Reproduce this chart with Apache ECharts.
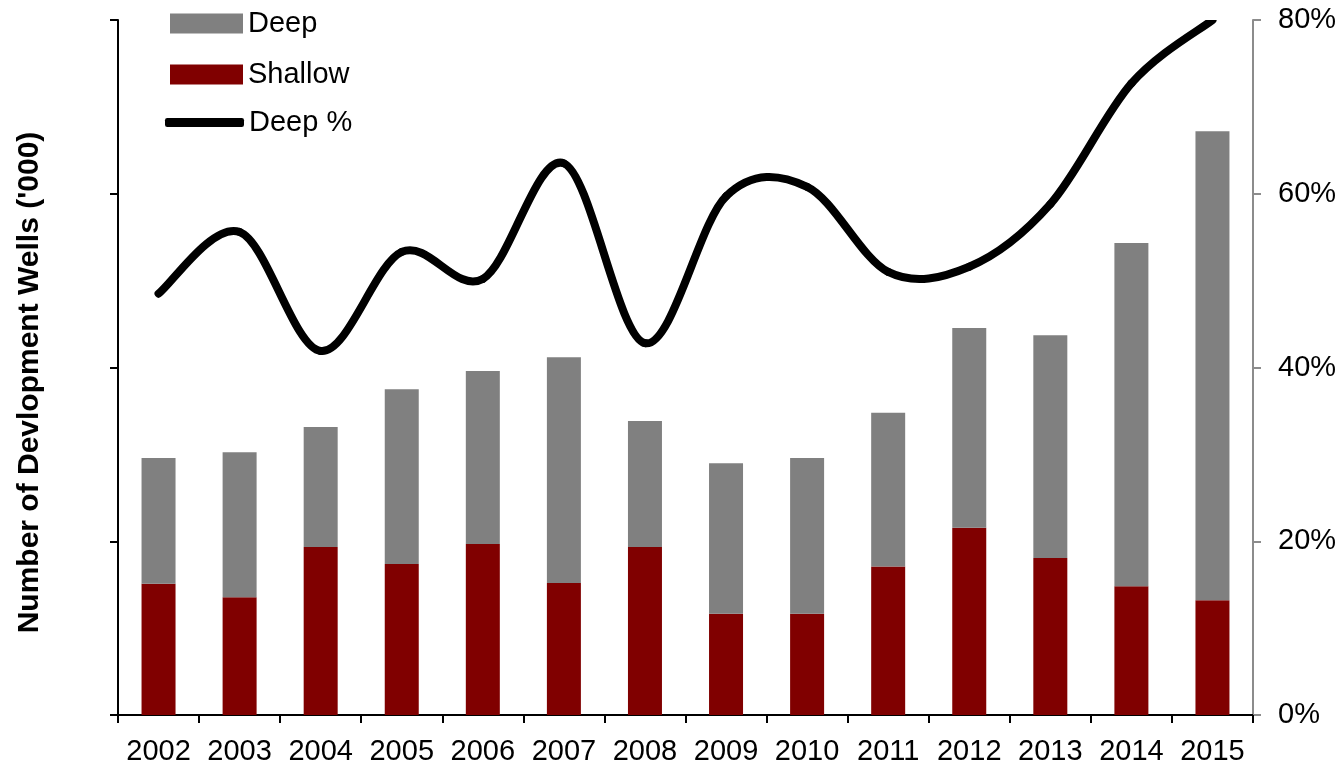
<!DOCTYPE html>
<html>
<head>
<meta charset="utf-8">
<title>Development Wells</title>
<script src="https://cdn.jsdelivr.net/npm/echarts@6/dist/echarts.min.js"></script>
<style>
  html, body { margin: 0; padding: 0; background: #ffffff; }
  #chart { width: 1344px; height: 769px; }
</style>
</head>
<body>
<div id="chart"></div>
<script>
// Years on the category axis
const years = ['2002', '2003', '2004', '2005', '2006', '2007', '2008',
               '2009', '2010', '2011', '2012', '2013', '2014', '2015'];

// Development wells drilled ('000), split by depth
const shallowWells = [7.56, 6.77, 9.67, 8.69, 9.84, 7.60, 9.67, 5.83, 5.83, 8.54, 10.78, 9.04, 7.41, 6.61];
const deepWells    = [7.23, 8.35, 6.91, 10.06, 9.96, 12.99, 7.25, 8.66, 8.96, 8.85, 11.49, 12.81, 19.76, 26.99];

// Share of deep wells in the total (%)
const deepShare = [48.5, 55.6, 41.9, 53.3, 50.2, 63.5, 42.8, 59.7, 60.8, 51.0, 51.6, 58.8, 72.7, 80.0];

// Right-hand axis ticks (%)
const shareTicks = [0, 20, 40, 60, 80];

const FONT = '"Liberation Sans", Arial, Helvetica, sans-serif';

// Smoothed share line: each item draws the cubic segment to the next point,
// with Catmull-Rom style control points taken from its neighbours.
function renderShareSegment(params, api) {
  const i = params.dataIndex;
  const n = deepShare.length;
  if (i >= n - 1) return null;
  const at = (k) => api.coord([Math.max(0, Math.min(n - 1, k)), deepShare[Math.max(0, Math.min(n - 1, k))]]);
  const p0 = at(i - 1), p1 = at(i), p2 = at(i + 1), p3 = at(i + 2);
  return {
    type: 'bezierCurve',
    shape: {
      x1: p1[0], y1: p1[1],
      x2: p2[0], y2: p2[1],
      cpx1: p1[0] + (p2[0] - p0[0]) / 6, cpy1: p1[1] + (p2[1] - p0[1]) / 6,
      cpx2: p2[0] - (p3[0] - p1[0]) / 6, cpy2: p2[1] - (p3[1] - p1[1]) / 6
    },
    style: { stroke: '#000000', lineWidth: 8, lineCap: 'round', fill: null }
  };
}

const chart = echarts.init(document.getElementById('chart'), null, { renderer: 'canvas' });

chart.setOption({
  backgroundColor: '#ffffff',
  animation: false,
  textStyle: { fontFamily: FONT, color: '#000000' },
  grid: { left: 118, right: 91, top: 20, bottom: 54, containLabel: false, outerBoundsMode: 'none' },
  legend: [
    {
      orient: 'vertical',
      left: 170,
      top: 9,
      padding: 0,
      itemWidth: 73,
      itemHeight: 20,
      itemGap: 22,
      icon: 'rect',
      data: ['Deep', 'Shallow'],
      textStyle: { fontFamily: FONT, fontSize: 29, color: '#000000' }
    },
    {
      orient: 'vertical',
      left: 165,
      top: 108,
      padding: 0,
      itemWidth: 79,
      itemHeight: 9,
      icon: 'roundRect',
      data: ['Deep %'],
      itemStyle: { color: '#000000' },
      textStyle: { fontFamily: FONT, fontSize: 29, color: '#000000' }
    }
  ],
  xAxis: {
    type: 'category',
    data: years,
    boundaryGap: true,
    axisLine: { show: true, lineStyle: { color: '#000000', width: 2 } },
    axisTick: { show: true, inside: false, length: 8, lineStyle: { color: '#000000', width: 2 } },
    axisLabel: { interval: 0, hideOverlap: false, fontFamily: FONT, fontSize: 29, color: '#000000', margin: 22 },
    splitLine: { show: false }
  },
  yAxis: [
    {
      type: 'value',
      min: 0,
      max: 40,
      interval: 10,
      position: 'left',
      name: "Number of Devlopment Wells ('000)",
      nameLocation: 'middle',
      nameGap: 73,
      nameRotate: 90,
      nameTextStyle: { fontFamily: FONT, fontSize: 30, fontWeight: 'bold', color: '#000000', padding: [0, 30, 0, 0] },
      axisLine: { show: true, lineStyle: { color: '#000000', width: 2 } },
      axisTick: { show: true, inside: false, length: 8, lineStyle: { color: '#000000', width: 2 } },
      axisLabel: { show: false },
      splitLine: { show: false }
    },
    {
      type: 'value',
      min: shareTicks[0],
      max: shareTicks[shareTicks.length - 1],
      interval: shareTicks[1] - shareTicks[0],
      position: 'right',
      axisLine: { show: true, lineStyle: { color: '#8c8c8c', width: 2 } },
      axisTick: { show: true, inside: false, length: 8, lineStyle: { color: '#8c8c8c', width: 2 } },
      axisLabel: { fontFamily: FONT, fontSize: 29, color: '#000000', margin: 25, formatter: '{value}%' },
      splitLine: { show: false }
    }
  ],
  series: [
    {
      name: 'Shallow',
      type: 'bar',
      stack: 'wells',
      barWidth: 34,
      data: shallowWells,
      itemStyle: { color: '#800000' },
      z: 2
    },
    {
      name: 'Deep',
      type: 'bar',
      stack: 'wells',
      barWidth: 34,
      data: deepWells,
      itemStyle: { color: '#808080' },
      z: 2
    },
    {
      name: 'Deep %',
      type: 'custom',
      yAxisIndex: 1,
      data: deepShare.map((v, i) => [i, v]),
      encode: { x: 0, y: 1 },
      renderItem: renderShareSegment,
      clip: true,
      itemStyle: { color: '#000000' },
      z: 5
    }
  ]
});
</script>
</body>
</html>
